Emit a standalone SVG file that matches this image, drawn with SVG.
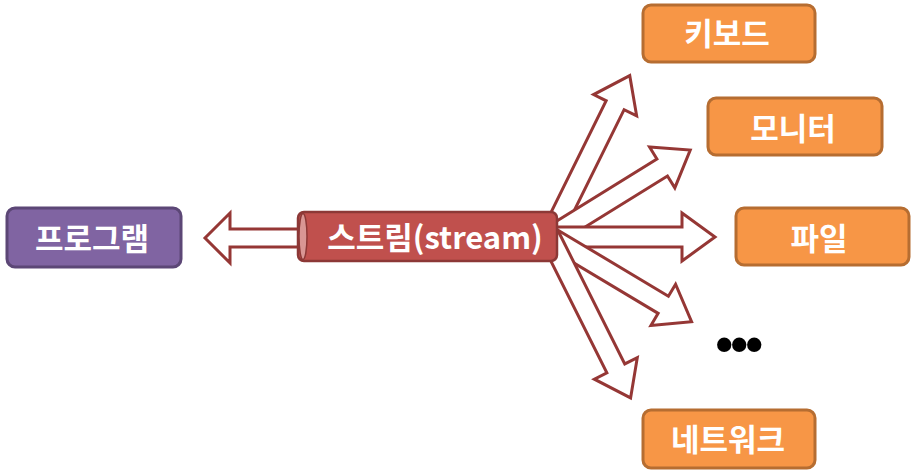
<svg xmlns="http://www.w3.org/2000/svg" width="922" height="474" viewBox="0 0 922 474">
<style>
.lbl{font-family:"Noto Sans CJK KR","Liberation Sans",sans-serif;font-weight:bold;font-size:31px;fill:#ffffff;text-anchor:middle}
.org{fill:#f79646;stroke:#b66d31;stroke-width:3}
.arr{fill:#ffffff;stroke:#953735;stroke-width:3;stroke-linejoin:miter}
</style>
<defs>
<path id="aS" d="M0,-10 L132,-10 L132,-24 L165,0 L132,24 L132,10 L0,10 Z"/>
<path id="aL" d="M0,-10 L147,-10 L147,-24 L180,0 L147,24 L147,10 L0,10 Z"/>
</defs>
<g id="connectors">
<path class="arr" d="M300,229 L230,229 L230,213 L205,238 L230,263 L230,247 L300,247 Z"/>
<use href="#aL" class="arr" transform="translate(550,237) rotate(-63.7)"/>
<use href="#aS" class="arr" transform="translate(550,237) rotate(-31.8)"/>
<use href="#aS" class="arr" transform="translate(550,237)"/>
<use href="#aS" class="arr" transform="translate(550,237) rotate(30.9)"/>
<use href="#aL" class="arr" transform="translate(550,237) rotate(63.4)"/>
</g>
<g id="program">
<rect x="7" y="208" width="174" height="59" rx="8" fill="#8064a2" stroke="#5c4776" stroke-width="3"/>
<text class="lbl" x="92" y="250">프로그램</text>
</g>
<g id="stream">
<rect x="298" y="212" width="259" height="49" rx="6" fill="#c0504d" stroke="#8c3836" stroke-width="2.5"/>
<ellipse cx="303" cy="236.5" rx="4" ry="23" fill="#d99694" stroke="#8c3836" stroke-width="1.5"/>
<text class="lbl" x="435" y="249">스트림(stream)</text>
</g>
<g id="keyboard">
<rect class="org" x="643" y="5" width="172" height="57" rx="8"/>
<text class="lbl" x="727" y="45">키보드</text>
</g>
<g id="monitor">
<rect class="org" x="708" y="98" width="174" height="57" rx="8"/>
<text class="lbl" x="793" y="140">모니터</text>
</g>
<g id="file">
<rect class="org" x="736" y="208" width="173" height="57" rx="8"/>
<text class="lbl" x="819" y="250">파일</text>
</g>
<g id="etc">
<text x="738" y="361" font-family="Liberation Sans,sans-serif" font-size="50" font-weight="bold" text-anchor="middle" letter-spacing="-2.5" fill="#000000">•••</text>
</g>
<g id="network">
<rect class="org" x="643" y="410" width="172" height="58" rx="8"/>
<text class="lbl" x="728" y="451">네트워크</text>
</g>
</svg>
